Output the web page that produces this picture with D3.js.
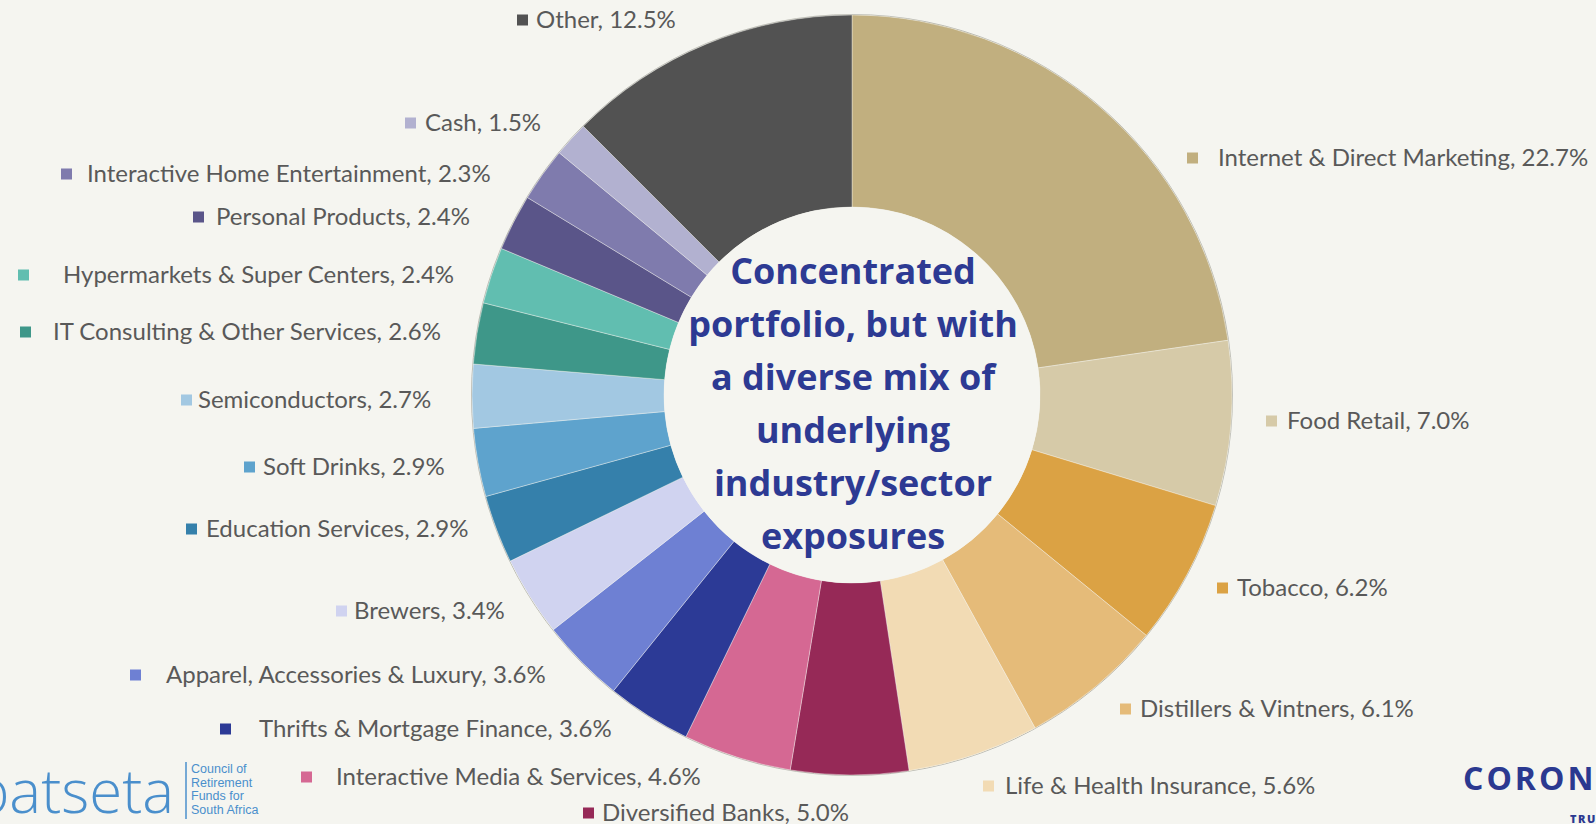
<!DOCTYPE html>
<html>
<head>
<meta charset="utf-8">
<script src="https://cdn.jsdelivr.net/npm/d3@7"></script>
<style>
  html, body { margin: 0; padding: 0; background: #f5f5f0; overflow: hidden; }
  svg { display: block; }
</style>
</head>
<body>
<svg id="chart" width="1596" height="824"></svg>
<script>
// ---- data ----
const categories = [
  "Internet & Direct Marketing", "Food Retail", "Tobacco", "Distillers & Vintners",
  "Life & Health Insurance", "Diversified Banks", "Interactive Media & Services",
  "Thrifts & Mortgage Finance", "Apparel, Accessories & Luxury", "Brewers",
  "Education Services", "Soft Drinks", "Semiconductors", "IT Consulting & Other Services",
  "Hypermarkets & Super Centers", "Personal Products", "Interactive Home Entertainment",
  "Cash", "Other"
];
const values = [22.7, 7.0, 6.2, 6.1, 5.6, 5.0, 4.6, 3.6, 3.6, 3.4, 2.9, 2.9, 2.7, 2.6, 2.4, 2.4, 2.3, 1.5, 12.5];
const colors = [
  "#c1af7f", "#d6caa8", "#dba244", "#e5bb79", "#f2dbb4", "#962957", "#d56893",
  "#2c3a96", "#6e80d3", "#d0d3f0", "#3580ab", "#5ea3cd", "#a2c8e2", "#3e9789",
  "#61beb0", "#5a5589", "#7f7bad", "#b2b1d0", "#525252"
];
const centerLines = ["Concentrated", "portfolio, but with", "a diverse mix of", "underlying", "industry/sector", "exposures"];

// ---- label layout (marker x, text x, y) ----
const labelMarkerX = [1187, 1266, 1217, 1120, 983, 583, 301, 220, 130, 336, 186, 244, 181, 20, 18, 193, 61, 405, 517];
const labelTextX   = [1218, 1287, 1237, 1140, 1005, 602, 336, 259, 166, 354, 206, 263, 198, 53, 63, 216, 87, 425, 536];
const labelY       = [158, 421, 588, 709, 786, 813, 777, 729, 675, 611, 529, 467, 400, 332, 275, 217, 174, 123, 20];

const W = 1596, H = 824;
const cx = 852, cy = 395, R = 380, r0 = 188;
const svg = d3.select("#chart");

svg.append("rect").attr("width", W).attr("height", H).attr("fill", "#f5f5f0");

const pie = d3.pie().sort(null).value(d => d)(values);
const arc = d3.arc().innerRadius(r0).outerRadius(R);
const color = d3.scaleOrdinal().domain(categories).range(colors);

const g = svg.append("g").attr("transform", `translate(${cx},${cy})`);
g.append("circle").attr("r", R + 0.5).attr("fill", "none").attr("stroke", "#b9b9b0").attr("stroke-width", 1);
g.selectAll("path.slice").data(pie).enter().append("path")
  .attr("class", "slice")
  .attr("d", arc)
  .attr("fill", (d, i) => color(categories[i]))
  .attr("stroke", "#f5f5f0").attr("stroke-width", 0.4);
g.append("circle").attr("r", r0).attr("fill", "#f5f5f0");

// center text
const ct = g.append("text")
  .attr("text-anchor", "middle")
  .attr("font-family", "'Open Sans', 'Noto Sans', sans-serif")
  .attr("font-weight", 700)
  .attr("font-size", 36)
  .attr("fill", "#2d3a93");
centerLines.forEach((t, i) => {
  ct.append("tspan").attr("x", 1).attr("y", -111 + i * 53).text(t);
});

// labels
const lab = svg.append("g").attr("font-family", "Lato, 'Noto Sans', sans-serif").attr("font-size", 24).attr("fill", "#595959");
categories.forEach((c, i) => {
  lab.append("rect")
    .attr("x", labelMarkerX[i]).attr("y", labelY[i] - 5.5)
    .attr("width", 11).attr("height", 11)
    .attr("fill", color(c));
  lab.append("text")
    .attr("x", labelTextX[i]).attr("y", labelY[i])
    .attr("dy", "0.35em")
    .text(`${c}, ${values[i].toFixed(1)}%`);
});

// logos
const logoL = svg.append("g");
logoL.append("text").attr("x", 174).attr("y", 813).attr("text-anchor", "end")
  .attr("font-family", "'Open Sans', Lato, sans-serif").attr("font-weight", 300)
  .attr("font-size", 60).attr("fill", "#4a8fcc").text("batseta");
logoL.append("line").attr("x1", 186).attr("x2", 186).attr("y1", 762).attr("y2", 819)
  .attr("stroke", "#4a8fcc").attr("stroke-width", 1.5);
["Council of", "Retirement", "Funds for", "South Africa"].forEach((t, i) => {
  logoL.append("text").attr("x", 191).attr("y", 773 + i * 13.5)
    .attr("font-family", "Arial, 'Liberation Sans', sans-serif").attr("font-size", 12.5)
    .attr("fill", "#4a8fcc").text(t);
});
svg.append("text").attr("x", 1463).attr("y", 790)
  .attr("font-family", "'Open Sans', Lato, sans-serif").attr("font-weight", 700)
  .attr("font-size", 32).attr("letter-spacing", 3).attr("fill", "#2b3990").text("CORONATION");
svg.append("text").attr("x", 1570).attr("y", 823)
  .attr("font-family", "'Open Sans', Lato, sans-serif").attr("font-weight", 800)
  .attr("font-size", 11).attr("letter-spacing", 1.5).attr("fill", "#2b3990").text("TRUST IS EARNED");
</script>
</body>
</html>
